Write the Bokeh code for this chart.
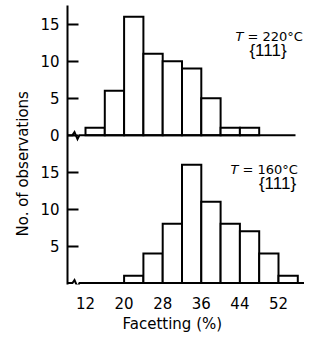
from bokeh.plotting import figure
from bokeh.models import Range1d, FixedTicker, Label, Title
from bokeh.embed import file_html
from bokeh.resources import INLINE

# ---- data ----
bin_left = [12, 16, 20, 24, 28, 32, 36, 40, 44, 48, 52]
bin_width = 4
counts_220 = [1, 6, 16, 11, 10, 9, 5, 1, 1, 0, 0]   # T = 220 °C panel (top)
counts_160 = [0, 0, 1, 4, 8, 16, 11, 8, 7, 4, 1]    # T = 160 °C panel (bottom)
x_ticks = [12, 20, 28, 36, 44, 52]
y_ticks = [0, 5, 10, 15]
PANEL_OFFSET = 20  # vertical offset of the upper panel's zero line

FONT = "DejaVu Sans"

# ---- geometry (pixels in the figure) ----
FRAME_LEFT, FRAME_TOP, FRAME_BOTTOM, W, H = 67, 5, 288, 304, 333
SX = 4.825                 # px per x unit
SY = 7.5                   # px per y unit
X0 = 12 - 18 / SX          # x value at the frame's left edge
X1 = X0 + (W - FRAME_LEFT) / SX
ZERO_TOP_PX = 136.5        # pixel row of the upper panel's zero line
Y1 = PANEL_OFFSET + (ZERO_TOP_PX - FRAME_TOP) / SY
Y0 = Y1 - (FRAME_BOTTOM - FRAME_TOP) / SY


def dx(px):
    return X0 + (px - FRAME_LEFT) / SX


p = figure(width=W, height=H, output_backend="svg", toolbar_location=None,
           x_range=Range1d(X0, X1), y_range=Range1d(Y0, Y1),
           min_border_left=FRAME_LEFT, min_border_right=0, min_border_top=FRAME_TOP,
           min_border_bottom=H - FRAME_BOTTOM)
p.outline_line_color = None
p.xgrid.visible = False
p.ygrid.visible = False
p.background_fill_color = "white"

# bars
def draw_panel(counts, base):
    lefts = [l for l, c in zip(bin_left, counts) if c > 0]
    tops = [base + c for c in counts if c > 0]
    rights = [l + bin_width for l in lefts]
    p.quad(left=lefts, right=rights, bottom=base, top=tops,
           fill_color="white", line_color="black", line_width=2,
           line_join="miter")

draw_panel(counts_220, PANEL_OFFSET)
draw_panel(counts_160, 0)

# baselines with axis-break squiggle (offsets in pixels from the axis corner)
brk = [(0, 0), (5, 0), (7, -3), (10, 4), (12, 0)]
def baseline(y0, x_end):
    xs = [X0 + a / SX for a, b in brk] + [x_end]
    ys = [y0 - b / SY for a, b in brk] + [y0]
    p.line(xs, ys, line_color="black", line_width=2, line_join="miter")

baseline(PANEL_OFFSET, dx(295))
baseline(0, X1)

# axes
xa = p.xaxis[0]
xa.ticker = FixedTicker(ticks=x_ticks)
xa.axis_line_color = None
xa.major_tick_line_color = None
xa.minor_tick_line_color = None
xa.major_label_standoff = 6
xa.major_label_text_font = FONT
xa.major_label_text_font_size = "15px"
xa.major_label_text_color = "black"

ya = p.yaxis[0]
ytick_pos = [t for t in y_ticks if t > 0] + [PANEL_OFFSET + t for t in y_ticks]
ya.ticker = FixedTicker(ticks=ytick_pos)
ya.major_label_overrides = {PANEL_OFFSET + t: str(t) for t in y_ticks}
ya.axis_line_color = "black"
ya.axis_line_width = 2
ya.major_tick_line_color = "black"
ya.major_tick_line_width = 2
ya.major_tick_in = 11
ya.major_tick_out = 0
ya.minor_tick_line_color = None
ya.major_label_standoff = 8
ya.major_label_text_font = FONT
ya.major_label_text_font_size = "15px"
ya.major_label_text_color = "black"

# axis titles (as side titles so they can be shifted along the side)
p.add_layout(Title(text="No. of observations", align="left", offset=48, standoff=11,
                   text_font=FONT, text_font_size="15px", text_font_style="normal",
                   text_color="black"), "left")
p.add_layout(Title(text="Facetting (%)", align="left", offset=55, standoff=2,
                   text_font=FONT, text_font_size="15px", text_font_style="normal",
                   text_color="black"), "below")

# panel annotations
def annot(tx, eqx, base_y, temp, brace_x, brace_y):
    p.add_layout(Label(x=dx(tx), y=base_y, text="T", text_align="left",
                       text_baseline="alphabetic", text_font=FONT,
                       text_font_style="italic", text_font_size="13px", text_color="black"))
    p.add_layout(Label(x=dx(eqx), y=base_y, text="= " + temp, text_align="left",
                       text_baseline="alphabetic", text_font=FONT,
                       text_font_size="13px", text_color="black"))
    p.add_layout(Label(x=dx(brace_x), y=brace_y, text="{111}", text_align="center",
                       text_baseline="middle", text_font="Liberation Sans",
                       text_font_size="17px", text_color="black"))

annot(235, 247, PANEL_OFFSET + 13.3, "220°C", 267.5, PANEL_OFFSET + 11.5)
annot(230, 242, 15.4, "160°C", 277, 13.45)

open("out.html", "w").write(file_html(p, INLINE))
